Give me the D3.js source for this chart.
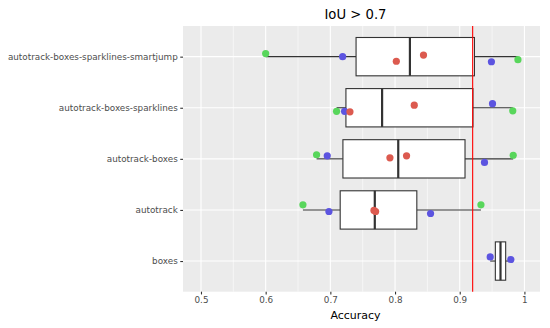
<!DOCTYPE html>
<html><head><meta charset="utf-8">
<script src="https://cdn.jsdelivr.net/npm/d3@7"></script>
<style>body{margin:0;background:#fff}svg{display:block}</style>
</head><body><svg id="c" width="550" height="328"></svg>
<script>
const categories = ["autotrack-boxes-sparklines-smartjump","autotrack-boxes-sparklines","autotrack-boxes","autotrack","boxes"];
// per-category point values (x) and colour group, plus vertical jitter (fraction of band step)
const smartjumpVals = [0.600, 0.719, 0.802, 0.844, 0.949, 0.990];
const smartjumpGrp  = ["g","b","r","r","b","g"];
const smartjumpJit  = [-0.06, 0.0, 0.09, -0.03, 0.10, 0.06];
const sparklinesVals = [0.7096, 0.722, 0.7303, 0.8297, 0.9507, 0.982];
const sparklinesGrp  = ["g","b","r","r","b","g"];
const sparklinesJit  = [0.07, 0.07, 0.08, -0.05, -0.08, 0.06];
const autoBoxesVals = [0.6787, 0.6952, 0.7921, 0.8178, 0.9383, 0.9827];
const autoBoxesGrp  = ["g","b","r","r","b","g"];
const autoBoxesJit  = [-0.08, -0.06, -0.02, -0.06, 0.07, -0.07];
const autotrackVals = [0.6576, 0.6978, 0.7674, 0.7700, 0.8549, 0.9328];
const autotrackGrp  = ["g","b","r","r","b","g"];
const autotrackJit  = [-0.10, 0.03, 0.01, 0.03, 0.07, -0.10];
const boxesVals = [0.9471, 0.979];
const boxesGrp  = ["b","b"];
const boxesJit  = [-0.08, -0.03];
const threshold = 0.92;
const xTicks = [0.5, 0.6, 0.7, 0.8, 0.9, 1.0];
const xTickLabels = ["0.5","0.6","0.7","0.8","0.9","1"];
const xMinor = [0.55, 0.65, 0.75, 0.85, 0.95];
const title = "IoU > 0.7";
const xTitle = "Accuracy";
const groupColors = {g:"#58d65b", r:"#dc5a4f", b:"#5c54e0"};

const series = [
  {vals: smartjumpVals, grp: smartjumpGrp, jit: smartjumpJit},
  {vals: sparklinesVals, grp: sparklinesGrp, jit: sparklinesJit},
  {vals: autoBoxesVals, grp: autoBoxesGrp, jit: autoBoxesJit},
  {vals: autotrackVals, grp: autotrackGrp, jit: autotrackJit},
  {vals: boxesVals, grp: boxesGrp, jit: boxesJit}
];

const svg = d3.select("#c");
const P = {l:183, r:540, t:26, b:291.7};
const x = d3.scaleLinear().domain([0.4722, 1.0241]).range([P.l, P.r]);
const y = d3.scalePoint().domain(categories).range([P.t, P.b]).padding(0.6);
const step = y.step();

svg.append("rect").attr("x",P.l).attr("y",P.t).attr("width",P.r-P.l).attr("height",P.b-P.t).attr("fill","#ebebeb");
const grid = svg.append("g");
xMinor.forEach(v=>grid.append("line").attr("x1",x(v)).attr("x2",x(v)).attr("y1",P.t).attr("y2",P.b).attr("stroke","#fff").attr("stroke-width",0.55));
xTicks.forEach(v=>grid.append("line").attr("x1",x(v)).attr("x2",x(v)).attr("y1",P.t).attr("y2",P.b).attr("stroke","#fff").attr("stroke-width",1.1));
categories.forEach(c=>grid.append("line").attr("x1",P.l).attr("x2",P.r).attr("y1",y(c)).attr("y2",y(c)).attr("stroke","#fff").attr("stroke-width",1.1));

// boxplots
const boxW = 0.75*step;
series.forEach((s,i)=>{
  const cy = y(categories[i]);
  const sorted = s.vals.slice().sort(d3.ascending);
  const q1 = d3.quantile(sorted,0.25), med = d3.quantile(sorted,0.5), q3 = d3.quantile(sorted,0.75);
  const iqr = q3-q1;
  const lo = d3.min(sorted.filter(v=>v>=q1-1.5*iqr)), hi = d3.max(sorted.filter(v=>v<=q3+1.5*iqr));
  const g = svg.append("g").attr("stroke","#333").attr("fill","none");
  g.append("line").attr("x1",x(lo)).attr("x2",x(q1)).attr("y1",cy).attr("y2",cy).attr("stroke-width",1.1);
  g.append("line").attr("x1",x(q3)).attr("x2",x(hi)).attr("y1",cy).attr("y2",cy).attr("stroke-width",1.1);
  g.append("rect").attr("x",x(q1)).attr("y",cy-boxW/2).attr("width",x(q3)-x(q1)).attr("height",boxW).attr("fill","#fff").attr("stroke-width",1.1);
  g.append("line").attr("x1",x(med)).attr("x2",x(med)).attr("y1",cy-boxW/2).attr("y2",cy+boxW/2).attr("stroke-width",2.2);
});

// threshold line
svg.append("line").attr("x1",x(threshold)).attr("x2",x(threshold)).attr("y1",P.t).attr("y2",P.b).attr("stroke","#ff0000").attr("stroke-width",1.1);

// points
series.forEach((s,i)=>{
  const cy = y(categories[i]);
  s.vals.forEach((v,j)=>{
    svg.append("circle").attr("cx",x(v)).attr("cy",cy+s.jit[j]*step).attr("r",3.6)
      .attr("fill",groupColors[s.grp[j]]);
  });
});

// axes
const xa = svg.append("g").attr("transform",`translate(0,${P.b})`)
  .call(d3.axisBottom(x).tickValues(xTicks).tickFormat((d,i)=>xTickLabels[i]).tickSize(2.75).tickPadding(2.5));
xa.select(".domain").remove();
xa.selectAll("line").attr("stroke","#333").attr("stroke-width",1.1);
xa.selectAll("text").attr("fill","#4d4d4d").style("font-family","DejaVu Sans, sans-serif").style("font-size","8.8px");

const ya = svg.append("g").attr("transform",`translate(${P.l},0)`)
  .call(d3.axisLeft(y).tickSize(2.75).tickPadding(2.5));
ya.select(".domain").remove();
ya.selectAll("line").attr("stroke","#333").attr("stroke-width",1.1);
ya.selectAll("text").attr("fill","#4d4d4d").style("font-family","DejaVu Sans, sans-serif").style("font-size","8.8px");

svg.append("text").attr("x",355.5).attr("y",19).attr("text-anchor","middle")
  .style("font-family","DejaVu Sans, sans-serif").style("font-size","13.2px").attr("fill","#000").text(title);
svg.append("text").attr("x",355.5).attr("y",319).attr("text-anchor","middle")
  .style("font-family","DejaVu Sans, sans-serif").style("font-size","11px").attr("fill","#000").text(xTitle);
</script></body></html>
